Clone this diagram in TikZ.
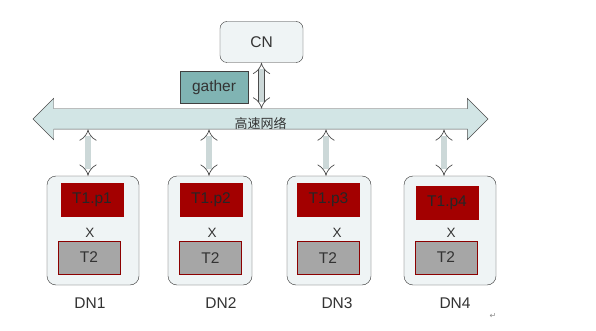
\documentclass[tikz,border=0pt]{standalone}
\usepackage{fontspec}
\setmainfont{Liberation Sans}
\newfontfamily\cjk{Noto Sans CJK SC}
\newfontfamily\symfont{DejaVu Sans}
\usetikzlibrary{shapes.arrows,arrows.meta}
\definecolor{netfill}{HTML}{D2E5E5}
\definecolor{tealbox}{HTML}{80B4B3}
\definecolor{darkred}{HTML}{A30000}
\definecolor{boxfill}{HTML}{EFF4F5}
\definecolor{linkfill}{HTML}{CCD8D8}

\begin{document}
\begin{tikzpicture}[x=1pt,y=-1pt,every node/.style={font=\fontsize{15.5}{17}\selectfont,text=black!80},
dn/.style={draw=black!80,rounded corners=9pt,fill=boxfill,minimum width=88pt,minimum height=109pt},
part/.style={draw=darkred,fill=darkred,minimum width=62pt,minimum height=33pt,text=black!85},
tab/.style={draw=red!55!black,fill=black!35,minimum width=62pt,minimum height=33pt},
times/.style={font=\fontsize{13.5}{15}\selectfont},
link/.style={double=linkfill,double distance=5.5pt,line width=0.7pt,draw=black!70,{Implies}-{Implies}}]
\fill[white] (0,0) rectangle (596,331);
\useasboundingbox (0,0) rectangle (596,331);
\node (cn) [draw=black!80,rounded corners=7pt,fill=boxfill,minimum width=83pt,minimum height=41pt] at (261.5,42) {CN};
\node (gather) [draw=black!75,fill=tealbox,minimum width=68pt,minimum height=32pt] at (214,87) {gather};
\node (net) [double arrow,draw=black!70,fill=netfill,minimum height=455pt,inner sep=0pt,double arrow head extend=10.5pt,double arrow tip angle=90,text height=19.5pt,text depth=0.5pt,font=\cjk\fontsize{13}{14}\selectfont] at (260.5,119) {高速网络};
\node (dn1) [dn,minimum width=92pt] at (93,230.5) {};
\node (dn2) [dn,minimum width=84pt] at (210,230.5) {};
\node (dn3) [dn,minimum width=84pt] at (329,230.5) {};
\node (dn4) [dn,minimum width=92pt] at (450,230.5) {};
\node (t1a) [part] at (92,199.5) {T1.p1};
\node (t1b) [part] at (211,200) {T1.p2};
\node (t1c) [part] at (328.5,200) {T1.p3};
\node (t1d) [part] at (447,203) {T1.p4};
\node (xa) [times] at (90,233) {X}; \node (xb) [times] at (212,233) {X};
\node (xc) [times] at (337,233) {X}; \node (xd) [times] at (451,233) {X};
\node (t2a) [tab] at (89,257.5) {T2}; \node (t2b) [tab] at (210.5,258) {T2};
\node (t2c) [tab] at (328,258) {T2}; \node (t2d) [tab] at (446,257.5) {T2};
\node (la) at (90,303) {DN1}; \node (lb) at (221,303) {DN2};
\node (lc) at (337,303) {DN3}; \node (ld) at (455,303) {DN4};
\node (ret) [text=black!45,font=\symfont\fontsize{8}{8}\selectfont] at (493,316) {↵};
\draw[link] (cn.south) -- (cn.south |- net.north);
\draw[link] ([xshift=-5pt]net.south -| dn1) -- ([xshift=-5pt]dn1.north);
\draw[link] ([xshift=-1pt]net.south -| dn2) -- ([xshift=-1pt]dn2.north);
\draw[link] ([xshift=-3pt]net.south -| dn3) -- ([xshift=-3pt]dn3.north);
\draw[link] ([xshift=-6pt]net.south -| dn4) -- ([xshift=-6pt]dn4.north);
\end{tikzpicture}
\end{document}
